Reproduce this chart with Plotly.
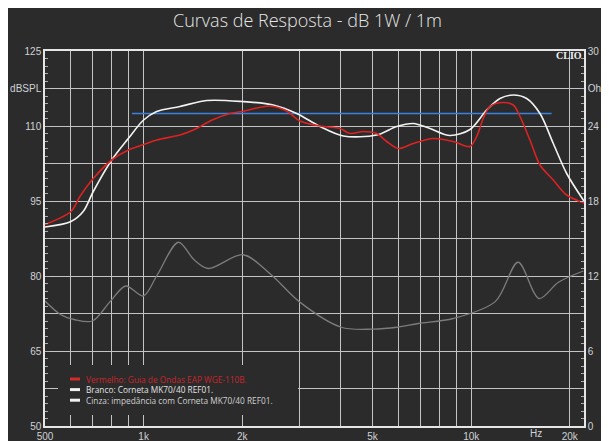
import math
import plotly.graph_objects as go

# ---- data ----
red_freq = [500, 600, 639, 702, 799, 898, 1000, 1096, 1291, 1418, 1633, 1835, 2000, 2431, 2734,
            3000, 3455, 3976, 4266, 4685, 5145, 5521, 5991, 6656, 7660, 8816, 9917, 10394, 10886,
            11411, 12531, 13446, 14095, 15114, 16219, 17809, 19565, 22100]
red_db = [90.3, 92.9, 95.9, 99.5, 103.2, 105.2, 106.3, 107.2, 108.2, 109.2, 111.3, 112.5, 112.9, 114.0, 113.0,
          111.0, 110.0, 109.5, 108.5, 108.9, 108.5, 106.9, 105.5, 106.5, 107.5, 106.9, 105.9, 107.9, 111.5,
          113.9, 114.7, 114.2, 111.9, 107.2, 102.2, 99.2, 96.2, 94.6]

white_freq = [500, 600, 654, 702, 799, 898, 1000, 1096, 1291, 1558, 2000, 2488, 2933, 3455, 4071,
              5145, 5923, 6656, 7484, 8614, 9917, 11150, 12242, 13446, 14767, 16219, 17809, 19565, 22100]
white_db = [89.8, 90.9, 92.9, 96.9, 103.2, 107.5, 111.2, 112.9, 113.9, 115.1, 114.9, 114.2, 112.5, 109.9, 108.0,
            108.2, 109.9, 110.5, 109.5, 108.1, 109.3, 113.2, 115.5, 116.2, 115.5, 112.5, 106.5, 100.5, 95.0]

imp_freq = [500, 559, 617, 698, 790, 882, 998, 1101, 1277, 1426, 1574, 2012, 2452, 2985, 4010,
            5004, 5948, 6895, 8816, 11842, 13907, 16116, 18460, 22000]
imp_ohm = [10.0, 8.9, 8.5, 8.4, 9.95, 11.2, 10.4, 12.1, 14.7, 13.3, 12.6, 13.7, 12.1, 9.95, 7.9,
           7.75, 7.9, 8.2, 8.6, 9.95, 13.1, 10.2, 11.5, 12.4]

ref_freq = [921, 17600]
ref_db = [112.5, 112.5]

x_grid = [500, 600, 700, 800, 900, 1000, 2000, 3000, 4000, 5000, 6000, 7000, 8000, 9000, 10000, 20000]
x_labels = {500: "500", 1000: "1k", 2000: "2k", 5000: "5k", 10000: "10k", 20000: "20k"}
db_ticks = [50 + 7.5 * i for i in range(11)]
db_labels = {50: "50", 65: "65", 80: "80", 95: "95", 110: "110", 117.5: "dBSPL", 125: "125"}
ohm_ticks = [3 * i for i in range(11)]
ohm_labels = {0: "0", 6: "6", 12: "12", 18: "18", 24: "24", 27: "Ohm", 30: "30"}

legend_items = [
    ("Vermelho: Guia de Ondas EAP WGE-110B.", "#d42a2a", "#c8262b"),
    ("Branco: Corneta MK70/40 REF01.", "#f0f0f0", "#e4e4e4"),
    ("Cinza: impedância com Corneta MK70/40 REF01.", "#f0f0f0", "#d0d0d0"),
]

BG = "#2b2b2b"
GRID = "#c4c4c4"
TXT = "#cfd2d6"

fig = go.Figure()
fig.add_trace(go.Scatter(x=imp_freq, y=imp_ohm, yaxis="y2", mode="lines",
                         line=dict(color="#7c7c7c", width=1.3, shape="spline", smoothing=0.9)))
fig.add_trace(go.Scatter(x=ref_freq, y=ref_db, mode="lines",
                         line=dict(color="#3b82e0", width=1.5)))
fig.add_trace(go.Scatter(x=white_freq, y=white_db, mode="lines",
                         line=dict(color="#f2f2f2", width=1.6, shape="spline", smoothing=0.9)))
fig.add_trace(go.Scatter(x=red_freq, y=red_db, mode="lines",
                         line=dict(color="#dd2222", width=1.6, shape="spline", smoothing=0.9)))

W, H = 609, 441
OFF = 8  # page body margin
# plot area in screen pixels
SL, SR, ST, SB = 45, 584, 51, 426
pw, ph = SR - SL, SB - ST

def px(xp):
    return (xp - SL) / pw

def py(yp):
    return (SB - yp) / ph

fig.update_layout(
    width=W, height=H,
    margin=dict(l=SL - OFF, r=W - (SR - OFF), t=ST - OFF, b=H - (SB - OFF), autoexpand=False),
    paper_bgcolor=BG, plot_bgcolor=BG,
    showlegend=False,
    title=dict(text="Curvas de Resposta - dB 1W / 1m", xref="container", x=(307.5 - OFF) / W,
               xanchor="center", yref="container", y=1 - (21 - OFF) / H, yanchor="middle",
               automargin=False,
               font=dict(family="Open Sans", size=18, color="#e6e6e6", weight=300)),
    xaxis=dict(type="log", range=[math.log10(500), math.log10(22100)], automargin=False,
               tickmode="array", tickvals=x_grid,
               ticktext=[x_labels.get(v, "") for v in x_grid],
               showgrid=True, gridcolor=GRID, gridwidth=1,
               showline=True, linecolor="#e6e6e6", linewidth=1.5, mirror=True,
               ticks="", ticklabelstandoff=0,
               tickfont=dict(family="Liberation Sans", size=10, color=TXT),
               zeroline=False),
    yaxis=dict(range=[50, 125], tickmode="array", tickvals=db_ticks, automargin=False,
               ticktext=[db_labels.get(v, "") for v in db_ticks],
               showgrid=True, gridcolor=GRID, gridwidth=1,
               showline=True, linecolor="#e6e6e6", linewidth=1.5,
               ticks="inside", ticklen=4, tickcolor="#bbbbbb",
               minor=dict(tickmode="linear", tick0=50, dtick=1.5, ticks="inside", ticklen=3,
                          tickcolor="#aaaaaa", showgrid=False),
               tickfont=dict(family="Liberation Sans", size=10, color=TXT),
               zeroline=False),
    yaxis2=dict(range=[0, 30], overlaying="y", side="right", tickmode="array", tickvals=ohm_ticks,
                automargin=False,
                ticktext=[ohm_labels.get(v, "") for v in ohm_ticks],
                showgrid=False, showline=True, linecolor="#e6e6e6", linewidth=1.5,
                ticks="inside", ticklen=4, tickcolor="#bbbbbb",
                minor=dict(tickmode="linear", tick0=0, dtick=0.6, ticks="inside", ticklen=3,
                           tickcolor="#aaaaaa", showgrid=False),
                tickfont=dict(family="Liberation Sans", size=10, color=TXT),
                zeroline=False),
)

# "Hz" unit label on the frequency axis
fig.add_annotation(x=math.log10(15800), xref="x", y=0, yref="paper", yanchor="top", yshift=-1,
                   text="Hz", showarrow=False, borderpad=0,
                   font=dict(family="Liberation Sans", size=10, color=TXT))

# CLIO mark
fig.add_annotation(x=px(583), xref="paper", y=py(56), yref="paper", xanchor="right", yanchor="middle",
                   text="<b>CLIO</b>", showarrow=False, borderpad=0,
                   font=dict(family="Liberation Serif", size=10, color="#f0f0f0"))

# Legend box (manual)
fig.add_shape(type="rect", xref="paper", yref="paper", x0=px(58), x1=px(298), y0=py(415), y1=py(365),
              fillcolor=BG, line=dict(width=0), layer="above")
for i, (label, sym_col, txt_col) in enumerate(legend_items):
    yy = 379 + i * 10.6
    fig.add_shape(type="line", xref="paper", yref="paper", x0=px(70), x1=px(80), y0=py(yy), y1=py(yy),
                  line=dict(color=sym_col, width=3), layer="above")
    fig.add_annotation(x=px(85), xref="paper", y=py(yy), yref="paper", xanchor="left", yanchor="middle",
                       text=label, showarrow=False, borderpad=0,
                       font=dict(family="Open Sans", size=8.3, color=txt_col))

fig.write_html("out.html")
